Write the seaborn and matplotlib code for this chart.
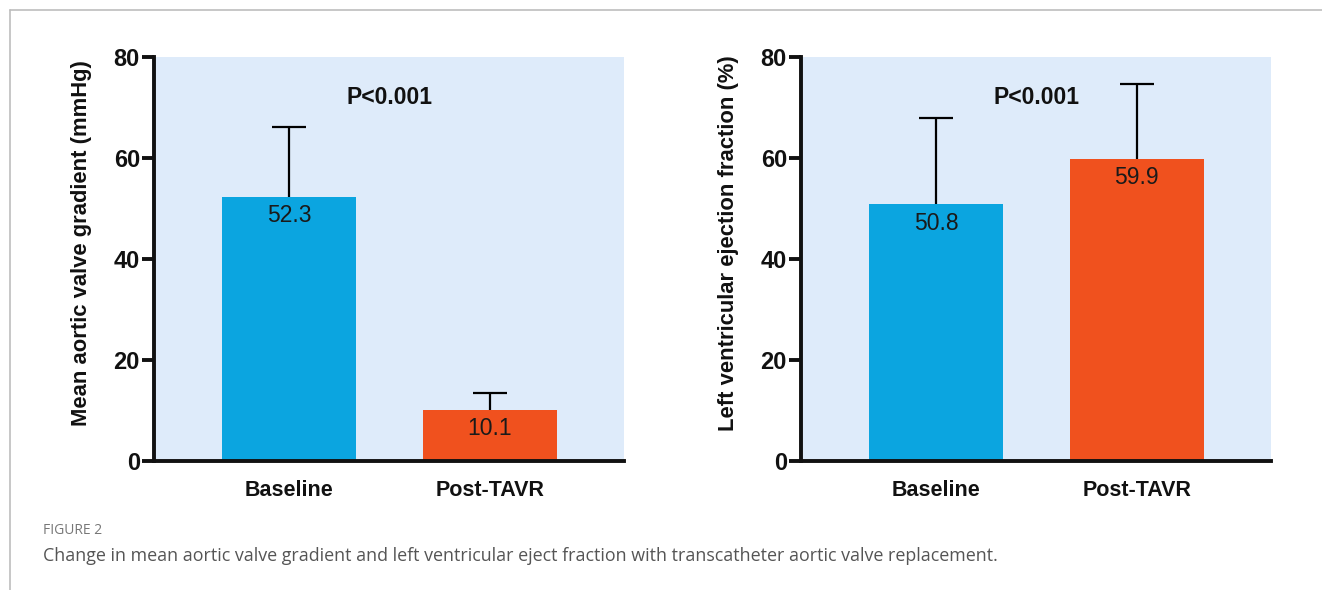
import matplotlib
matplotlib.use("Agg")
import matplotlib.pyplot as plt
from matplotlib.lines import Line2D
import seaborn as sns
import pandas as pd

# ---- data ----
categories = ["Baseline", "Post-TAVR"]
gradient_mean = [52.3, 10.1]
gradient_sd = [13.8, 3.4]
lvef_mean = [50.8, 59.9]
lvef_sd = [17.1, 14.8]
y_ticks = [0, 20, 40, 60, 80]
p_text = "P<0.001"
ylabels = ["Mean aortic valve gradient (mmHg)", "Left ventricular ejection fraction (%)"]
caption_head = "FIGURE 2"
caption_text = ("Change in mean aortic valve gradient and left ventricular eject fraction "
                "with transcatheter aortic valve replacement.")

bar_colors = ["#0ba5e0", "#f0511e"]
bg_color = "#deebfa"

sns.set_theme(style="white")
plt.rcParams["font.family"] = ["Liberation Sans", "DejaVu Sans"]

fig = plt.figure(figsize=(13.22, 5.90), dpi=100)
W, H = 1322, 590

def px_axes(x0, x1, ytop, ybot):
    return fig.add_axes([x0 / W, (H - ybot) / H, (x1 - x0) / W, (ybot - ytop) / H])

axes = [px_axes(154, 624, 57, 461), px_axes(801, 1271, 57, 461)]
datasets = [(gradient_mean, gradient_sd), (lvef_mean, lvef_sd)]

for ax, (means, sds), ylab in zip(axes, datasets, ylabels):
    df = pd.DataFrame({"group": categories, "value": means})
    # error bars drawn behind the bars so only the upper half shows
    ax.errorbar(x=range(len(categories)), y=means, yerr=sds,
                fmt="none", ecolor="black", elinewidth=1.6, capsize=12.3,
                capthick=1.6, zorder=1)
    sns.barplot(data=df, x="group", y="value", hue="group", palette=bar_colors,
                width=0.668, ax=ax, legend=False, saturation=1, edgecolor="none",
                errorbar=None, zorder=2)
    for i, m in enumerate(means):
        ax.annotate(f"{m}", xy=(i, m), xytext=(0, -19), textcoords="offset pixels",
                    ha="center", va="center", fontsize=16.5, color="#1a1a1a", zorder=4)
    ax.text(0.5, 72, p_text, ha="center", va="center", fontsize=16.5,
            fontweight="bold", color="#111111")
    ax.set_facecolor(bg_color)
    ax.set_xlim(-0.675, 1.67)
    ax.set_ylim(0, 80)
    ax.set_yticks(y_ticks)
    ax.set_yticklabels([str(t) for t in y_ticks], fontsize=17, fontweight="bold")
    ax.set_xlabel("")
    ax.set_ylabel(ylab, fontsize=15.8, fontweight="bold", color="#111111")
    ax.yaxis.set_label_coords(-0.132, 0.54)
    ax.tick_params(axis="y", length=8.6, width=2.8, pad=1.5, left=True, colors="#111111")
    ax.tick_params(axis="x", length=0, pad=14)
    for lab in ax.get_xticklabels():
        lab.set_fontsize(15.5)
        lab.set_fontweight("bold")
        lab.set_color("#111111")
    for s in ["top", "right"]:
        ax.spines[s].set_visible(False)
    for s in ["left", "bottom"]:
        ax.spines[s].set_linewidth(2.8)
        ax.spines[s].set_color("#111111")
        ax.spines[s].set_zorder(5)

# frame lines
fig.add_artist(Line2D([10 / W, 1], [1 - 10 / H, 1 - 10 / H], color="#bdbdbd", lw=1.2))
fig.add_artist(Line2D([10 / W, 10 / W], [0, 1 - 10 / H], color="#bdbdbd", lw=1.2))

fig.text(43 / W, 1 - 531 / H, caption_head, fontsize=10, color="#777777",
         family=["Open Sans", "DejaVu Sans"], va="center", ha="left")
fig.text(43 / W, 1 - 556 / H, caption_text, fontsize=12.9, color="#555555",
         family=["Open Sans", "DejaVu Sans"], va="center", ha="left")

fig.savefig("out.png", dpi=100)
